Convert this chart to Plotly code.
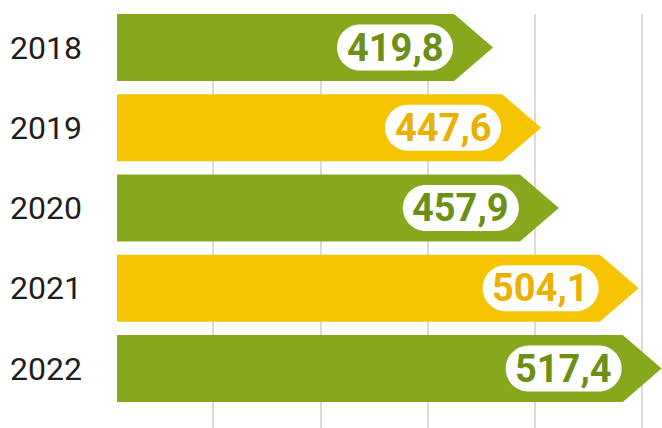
import plotly.graph_objects as go

# ---- data ----
YEARS = ["2018", "2019", "2020", "2021", "2022"]
VALUES = [419.8, 447.6, 457.9, 504.1, 517.4]
BAR_COLORS = ["#87A81C", "#F6C400", "#87A81C", "#F6C400", "#87A81C"]
TEXT_COLORS = ["#6E8F16", "#E9B200", "#6E8F16", "#E9B200", "#6E8F16"]
LABELS = [f"{v:.1f}".replace(".", ",") for v in VALUES]

# ---- style constants ----
X_RANGE = [202.2, 517.6]
BASE = X_RANGE[0]
HALF_H = 0.4175        # half bar thickness in category units
TIP = 22.5             # arrow tip length in data units
PILL_W, PILL_R, PILL_GAP = 116, 23, 40   # pixels
K = 0.5523

fig = go.Figure()

for i, (v, c) in enumerate(zip(VALUES, BAR_COLORS)):
    xs = [BASE, v - TIP, v, v - TIP, BASE, BASE]
    ys = [i - HALF_H, i - HALF_H, i, i + HALF_H, i + HALF_H, i - HALF_H]
    fig.add_trace(go.Scatter(x=xs, y=ys, mode="lines", fill="toself",
                             fillcolor=c, line=dict(color=c, width=0),
                             hoverinfo="skip", showlegend=False))


def pill_path(L, R, r):
    T, B = r, -r
    k = K * r
    return (f"M {L + r},{T} L {R - r},{T} "
            f"C {R - r + k},{T} {R},{k} {R},0 "
            f"C {R},{-k} {R - r + k},{B} {R - r},{B} "
            f"L {L + r},{B} "
            f"C {L + r - k},{B} {L},{-k} {L},0 "
            f"C {L},{k} {L + r - k},{T} {L + r},{T} Z")


shapes = []
annotations = []
for i, (v, lab, tc) in enumerate(zip(VALUES, LABELS, TEXT_COLORS)):
    R = -PILL_GAP
    L = R - PILL_W
    shapes.append(dict(type="path", xref="x", yref="y",
                       xsizemode="pixel", ysizemode="pixel",
                       xanchor=v, yanchor=i,
                       path=pill_path(L, R, PILL_R),
                       fillcolor="#FFFFFF", line=dict(width=0), layer="above"))
    annotations.append(dict(x=v, y=i, xref="x", yref="y", text=lab,
                            showarrow=False, xshift=(L + R) / 2, yshift=0,
                            xanchor="center", yanchor="middle",
                            font=dict(family="Roboto", size=38, color=tc, weight=700)))

fig.update_layout(
    width=662, height=428,
    margin=dict(l=117, r=0, t=14, b=0, autoexpand=False),
    paper_bgcolor="white", plot_bgcolor="white",
    shapes=shapes, annotations=annotations,
    xaxis=dict(range=X_RANGE, showgrid=True, gridcolor="#DADADA", gridwidth=1.5,
               tick0=258, dtick=62, showticklabels=False, zeroline=False,
               showline=False, ticks="", automargin=False),
    yaxis=dict(range=[4.741, -0.4175], tickvals=list(range(len(YEARS))),
               ticktext=YEARS, showgrid=False, zeroline=False, showline=False,
               ticks="", ticklabelstandoff=34, automargin=False,
               tickfont=dict(family="Roboto", size=32, color="#1E1E1E")),
    showlegend=False,
)

fig.write_html("out.html", config={"displayModeBar": False},
               post_script="document.body.style.margin='0';document.body.style.overflow='hidden';")
